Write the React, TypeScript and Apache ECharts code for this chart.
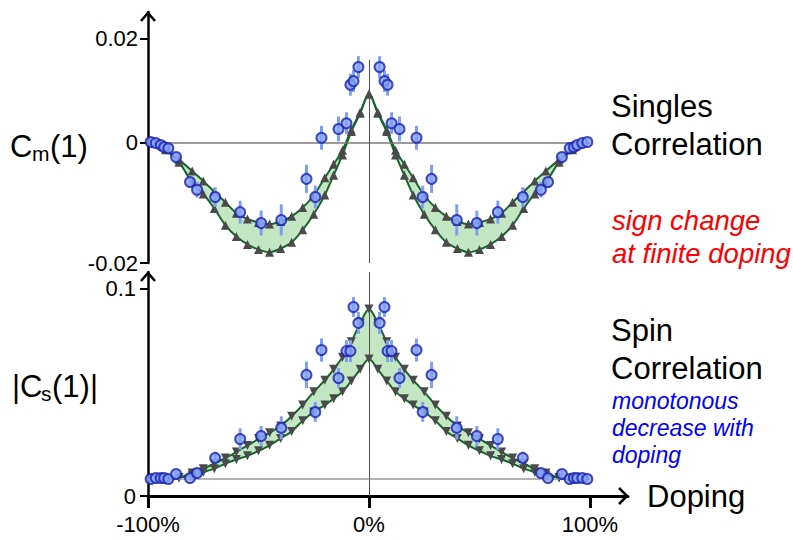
import React, { useEffect, useRef } from 'react';
import * as echarts from 'echarts';

// ---- measured data (doping in %, correlations as raw values) ----
const dopingData = [
  -98.8, -96.5, -94.2, -92.7, -90.8, -87.3, -81.0, -77.8, -69.6, -58.3,
  -48.8, -39.7, -28.3, -24.3, -21.5, -13.8, -10.2, -8.4, -7.0, -4.8,
  4.8, 7.0, 8.4, 10.2, 13.8, 21.5, 24.3, 28.3, 39.7, 48.8,
  58.3, 69.6, 77.8, 81.0, 87.3, 90.8, 92.7, 94.2, 96.5, 98.8,
];
const singlesValues = [
  0.0002, 0.0, -0.0004, -0.0008, -0.001, -0.0027, -0.0075, -0.009, -0.0104, -0.0133,
  -0.0154, -0.0148, -0.0069, -0.0104, 0.001, 0.0027, 0.0038, 0.0112, 0.0119, 0.0146,
  0.0146, 0.0119, 0.0112, 0.0038, 0.0027, 0.001, -0.0104, -0.0069, -0.0148, -0.0154,
  -0.0133, -0.0104, -0.009, -0.0075, -0.0027, -0.001, -0.0008, -0.0004, 0.0, 0.0002,
];
const singlesErrors = [
  0.0003, 0.0003, 0.0003, 0.0004, 0.0005, 0.0008, 0.001, 0.0015, 0.0019, 0.0022,
  0.0024, 0.003, 0.0027, 0.0022, 0.0023, 0.0024, 0.0021, 0.0021, 0.0021, 0.0021,
  0.0021, 0.0021, 0.0021, 0.0021, 0.0024, 0.0023, 0.0022, 0.0027, 0.003, 0.0024,
  0.0022, 0.0019, 0.0015, 0.001, 0.0008, 0.0005, 0.0004, 0.0003, 0.0003, 0.0003,
];
const spinValues = [
  0.0082, 0.0087, 0.0087, 0.0087, 0.0082, 0.0106, 0.0087, 0.0111, 0.0184, 0.0275,
  0.029, 0.0329, 0.0585, 0.0406, 0.0705, 0.057, 0.07, 0.07, 0.0913, 0.0836,
  0.0836, 0.0913, 0.07, 0.07, 0.057, 0.0705, 0.0406, 0.0585, 0.0329, 0.029,
  0.0275, 0.0184, 0.0111, 0.0087, 0.0106, 0.0082, 0.0087, 0.0087, 0.0087, 0.0082,
];
const spinErrors = [
  0.0005, 0.0005, 0.0005, 0.0005, 0.0005, 0.0015, 0.001, 0.0024, 0.0027, 0.0052,
  0.0048, 0.0056, 0.0064, 0.0048, 0.0056, 0.0048, 0.0053, 0.0053, 0.0048, 0.0053,
  0.0053, 0.0048, 0.0053, 0.0053, 0.0048, 0.0056, 0.0048, 0.0064, 0.0056, 0.0048,
  0.0052, 0.0027, 0.0024, 0.001, 0.0015, 0.0005, 0.0005, 0.0005, 0.0005, 0.0005,
];

// ---- theory bands ----
const theoryDoping = [
  -92, -86, -80, -75, -70, -65, -60, -55, -50, -45, -40, -35, -30, -25, -20, -16, -12, -8, -4, 0,
  4, 8, 12, 16, 20, 25, 30, 35, 40, 45, 50, 55, 60, 65, 70, 75, 80, 86, 92,
];
const singlesUpper = [
  -0.0012, -0.0032, -0.0054, -0.0073, -0.0094, -0.0114, -0.0135, -0.0146, -0.0153, -0.0156,
  -0.0151, -0.0141, -0.0124, -0.0101, -0.0067, -0.0041, -0.0014, 0.0025, 0.0059, 0.0094,
  0.0059, 0.0025, -0.0014, -0.0041, -0.0067, -0.0101, -0.0124, -0.0141, -0.0151, -0.0156,
  -0.0153, -0.0146, -0.0135, -0.0114, -0.0094, -0.0073, -0.0054, -0.0032, -0.0012,
];
const singlesLower = [
  -0.0013, -0.0037, -0.0076, -0.0098, -0.0126, -0.0158, -0.018, -0.0195, -0.0205, -0.021,
  -0.0203, -0.0191, -0.0167, -0.0137, -0.01, -0.0062, -0.0023, 0.0022, 0.0057, 0.0094,
  0.0057, 0.0022, -0.0023, -0.0062, -0.01, -0.0137, -0.0167, -0.0191, -0.0203, -0.021,
  -0.0205, -0.0195, -0.018, -0.0158, -0.0126, -0.0098, -0.0076, -0.0037, -0.0013,
];
const spinUpper = [
  0.0079, 0.0088, 0.0111, 0.0132, 0.0157, 0.0183, 0.0213, 0.0244, 0.0276, 0.0306,
  0.0338, 0.0385, 0.044, 0.0503, 0.0559, 0.0612, 0.067, 0.0745, 0.0835, 0.0903,
  0.0835, 0.0745, 0.067, 0.0612, 0.0559, 0.0503, 0.044, 0.0385, 0.0338, 0.0306,
  0.0276, 0.0244, 0.0213, 0.0183, 0.0157, 0.0132, 0.0111, 0.0088, 0.0079,
];
const spinLower = [
  0.0079, 0.0088, 0.01, 0.0115, 0.0132, 0.0156, 0.0176, 0.0194, 0.0218, 0.0245,
  0.0278, 0.0312, 0.0364, 0.0406, 0.0439, 0.047, 0.0504, 0.0556, 0.0612, 0.0662,
  0.0612, 0.0556, 0.0504, 0.047, 0.0439, 0.0406, 0.0364, 0.0312, 0.0278, 0.0245,
  0.0218, 0.0194, 0.0176, 0.0156, 0.0132, 0.0115, 0.01, 0.0088, 0.0079,
];

// ---- axes ----
const singlesTickValues = [-0.02308, 0, 0.02];
const singlesTickLabels = ['-0.02', '0', '0.02'];
const spinTickValues = [0, 0.1];
const spinTickLabels = ['0', '0.1'];
const dopingTickValues = [-100, 0, 100];
const dopingTickLabels = ['-100%', '0%', '100%'];
const spinBaseline = 0.0082;

const FONT = 'Liberation Sans, Arial, sans-serif';
const SMOOTH = 0.3;
const GREEN = '#17652c';
const FILL = '#c3e6c3';
const MARK = '#4a4a4a';

function errorSeries(idx: number, vals: number[], errs: number[]) {
  return {
    type: 'custom',
    xAxisIndex: idx,
    yAxisIndex: idx,
    silent: true,
    z: 4,
    data: dopingData.map((d, i) => [d, vals[i], errs[i]]),
    encode: { x: 0, y: 1 },
    renderItem: (_p: any, api: any) => {
      const x = api.value(0);
      const y = api.value(1);
      const e = api.value(2);
      const a = api.coord([x, y - e]);
      const b = api.coord([x, y + e]);
      return {
        type: 'line',
        shape: { x1: a[0], y1: a[1], x2: b[0], y2: b[1] },
        style: { stroke: '#7f9ff7', lineWidth: 3 },
      };
    },
  };
}

function bandSeries(idx: number, upper: number[], lower: number[], symbolRotate: number) {
  const lowerPts = theoryDoping.map((d, i) => [d, lower[i]]);
  const upperPts = theoryDoping.map((d, i) => [d, upper[i]]);
  const lineCommon = {
    type: 'line',
    xAxisIndex: idx,
    yAxisIndex: idx,
    smooth: SMOOTH,
    silent: true,
    symbol: 'triangle',
    symbolSize: 9,
    symbolRotate,
    itemStyle: { color: MARK },
    lineStyle: { color: GREEN, width: 2 },
    z: 3,
  };
  return [
    {
      type: 'custom',
      xAxisIndex: idx,
      yAxisIndex: idx,
      silent: true,
      z: 1,
      data: [[theoryDoping[0], lower[0]]],
      encode: { x: 0, y: 1 },
      renderItem: (_p: any, api: any) => {
        const pts: number[][] = [];
        upperPts.forEach((p) => pts.push(api.coord(p)));
        for (let i = lowerPts.length - 1; i >= 0; i--) pts.push(api.coord(lowerPts[i]));
        return {
          type: 'polygon',
          shape: { points: pts, smooth: SMOOTH },
          style: { fill: FILL, stroke: 'none' },
        };
      },
    },
    { ...lineCommon, data: upperPts },
    { ...lineCommon, data: lowerPts },
  ];
}

function scatterSeries(idx: number, vals: number[]) {
  return {
    type: 'scatter',
    xAxisIndex: idx,
    yAxisIndex: idx,
    silent: true,
    symbolSize: 10,
    itemStyle: { color: '#86a4f6', borderColor: '#1b22b0', borderWidth: 2 },
    data: dopingData.map((d, i) => [d, vals[i]]),
    z: 5,
  };
}

function refLines(idx: number, lines: any[]) {
  return {
    type: 'line',
    xAxisIndex: idx,
    yAxisIndex: idx,
    data: [],
    silent: true,
    z: 2,
    markLine: {
      silent: true,
      symbol: ['none', 'none'],
      label: { show: false },
      animation: false,
      data: lines,
    },
  };
}

function chevron(points: number[][]) {
  return {
    type: 'polyline',
    silent: true,
    z: 100,
    shape: { points },
    style: { stroke: '#000', lineWidth: 2.5, fill: 'none', lineJoin: 'miter' },
  };
}

function label(x: number, y: number, text: string, size: number, color = '#000', italic = false) {
  return {
    type: 'text',
    x,
    y,
    silent: true,
    style: {
      text,
      fontSize: size,
      fontFamily: FONT,
      fill: color,
      fontStyle: italic ? 'italic' : 'normal',
      verticalAlign: 'middle',
    },
  };
}

export default function App() {
  const ref = useRef<HTMLDivElement>(null);
  useEffect(() => {
    if (!ref.current) return;
    const chart = echarts.init(ref.current, null, { renderer: 'svg' });
    const yLine = { show: true, onZero: false, lineStyle: { color: '#000', width: 2.5 } };
    chart.setOption({
      animation: false,
      backgroundColor: '#fff',
      grid: [
        { left: 148, right: 203, top: 12, height: 251 },
        { left: 148, right: 165, top: 272, height: 224 },
      ],
      xAxis: [
        { type: 'value', gridIndex: 0, min: -100, max: 100, show: false },
        {
          type: 'value',
          gridIndex: 1,
          min: -100,
          max: 117.2,
          name: 'Doping',
          nameLocation: 'end',
          nameGap: 19,
          nameTextStyle: { fontSize: 31, fontFamily: FONT, color: '#000' },
          splitLine: { show: false },
          axisLine: { onZero: false, lineStyle: { color: '#000', width: 3 } },
          axisTick: {
            customValues: dopingTickValues,
            length: 12,
            lineStyle: { color: '#000', width: 3 },
          },
          axisLabel: {
            customValues: dopingTickValues,
            formatter: (v: number) => dopingTickLabels[dopingTickValues.indexOf(v)] ?? '',
            fontSize: 22,
            fontFamily: FONT,
            color: '#000',
            margin: 17,
          },
        },
      ],
      yAxis: [
        {
          type: 'value',
          gridIndex: 0,
          min: -0.02308,
          max: 0.02519,
          splitLine: { show: false },
          axisLine: yLine,
          axisTick: {
            show: true,
            customValues: singlesTickValues,
            length: 8,
            lineStyle: { color: '#000', width: 2 },
          },
          axisLabel: {
            customValues: singlesTickValues,
            formatter: (v: number) => singlesTickLabels[singlesTickValues.indexOf(v)] ?? '',
            fontSize: 22,
            fontFamily: FONT,
            color: '#000',
            margin: 10,
          },
        },
        {
          type: 'value',
          gridIndex: 1,
          min: 0,
          max: 0.1082,
          splitLine: { show: false },
          axisLine: yLine,
          axisTick: {
            show: true,
            customValues: spinTickValues,
            length: 8,
            lineStyle: { color: '#000', width: 2 },
          },
          axisLabel: {
            customValues: spinTickValues,
            formatter: (v: number) => spinTickLabels[spinTickValues.indexOf(v)] ?? '',
            fontSize: 22,
            fontFamily: FONT,
            color: '#000',
            margin: 12,
          },
        },
      ],
      series: [
        refLines(0, [
          [{ coord: [-100, 0], lineStyle: { color: '#7a7a7a', width: 1.5, type: 'solid' } }, { coord: [100, 0] }],
          [{ coord: [0, 0.016], lineStyle: { color: '#505050', width: 1, type: 'solid' } }, { coord: [0, -0.02308] }],
        ]),
        refLines(1, [
          [{ coord: [-100, spinBaseline], lineStyle: { color: '#9a9a9a', width: 1.5, type: 'solid' } }, { coord: [100, spinBaseline] }],
          [{ coord: [0, 0], lineStyle: { color: '#505050', width: 1, type: 'solid' } }, { coord: [0, 0.1082] }],
        ]),
        ...bandSeries(0, singlesUpper, singlesLower, 0),
        ...bandSeries(1, spinUpper, spinLower, 180),
        errorSeries(0, singlesValues, singlesErrors),
        errorSeries(1, spinValues, spinErrors),
        scatterSeries(0, singlesValues),
        scatterSeries(1, spinValues),
      ],
      graphic: [
        chevron([[141, 21], [148, 13], [155, 21]]),
        chevron([[141, 281], [148, 273], [155, 281]]),
        chevron([[619, 488], [627, 496], [619, 504]]),
        label(10, 146, 'C', 31),
        label(32, 153, 'm', 21),
        label(50, 146, '(1)', 31),
        label(12, 386, '|C', 31),
        label(41, 393, 's', 21),
        label(52, 386, '(1)|', 31),
        label(611, 106, 'Singles', 31),
        label(611, 144, 'Correlation', 31),
        label(612, 220, 'sign change', 27.5, '#ff0000', true),
        label(612, 253, 'at finite doping', 27.5, '#ff0000', true),
        label(611, 330, 'Spin', 31),
        label(611, 368, 'Correlation', 31),
        label(612, 401, 'monotonous', 23, '#0000ff', true),
        label(612, 428, 'decrease with', 23, '#0000ff', true),
        label(612, 455, 'doping', 23, '#0000ff', true),
      ],
    });
    return () => chart.dispose();
  }, []);
  return <div ref={ref} style={{ width: 793, height: 540, position: 'absolute', left: 0, top: 0 }} />;
}
